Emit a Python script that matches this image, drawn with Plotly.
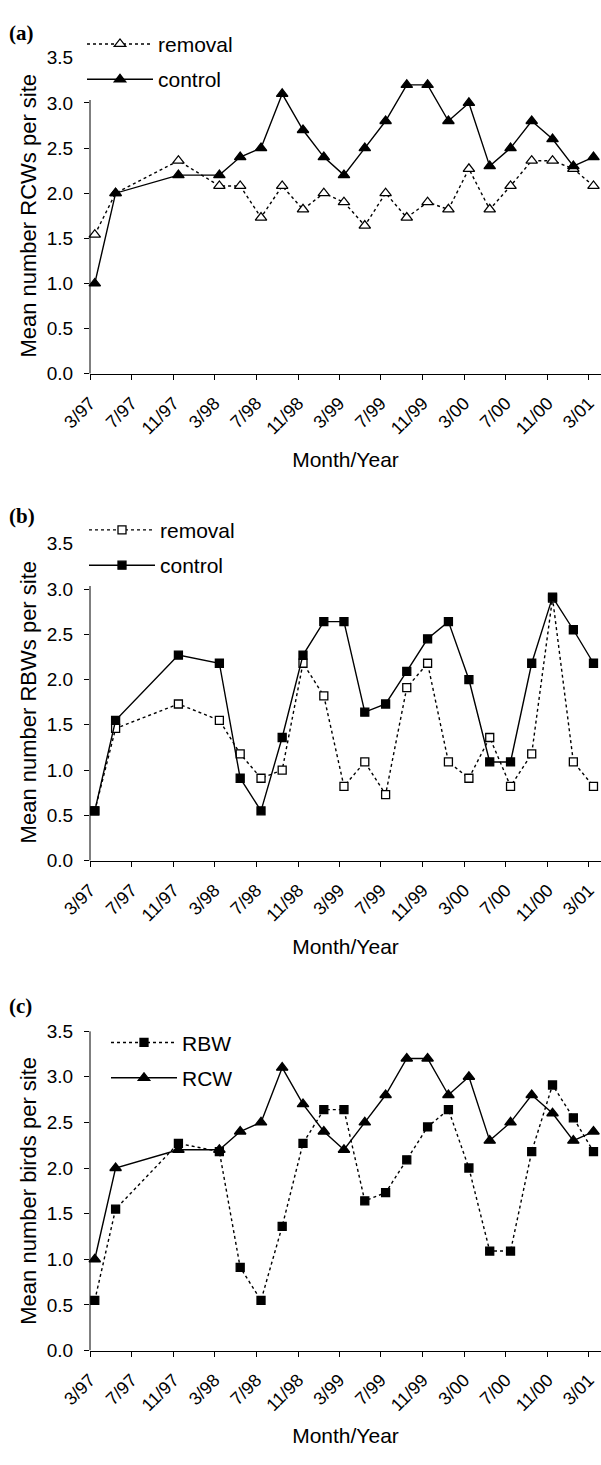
import plotly.graph_objects as go

# ---- data ----
dates = ["1997-03-15", "1997-05-15", "1997-11-15", "1998-03-15", "1998-05-15",
         "1998-07-15", "1998-09-15", "1998-11-15", "1999-01-15", "1999-03-15",
         "1999-05-15", "1999-07-15", "1999-09-15", "1999-11-15", "2000-01-15",
         "2000-03-15", "2000-05-15", "2000-07-15", "2000-09-15", "2000-11-15",
         "2001-01-15", "2001-03-15"]
rcw_removal = [1.54, 2.0, 2.36, 2.08, 2.08, 1.73, 2.08, 1.82, 2.0, 1.9, 1.64,
               2.0, 1.73, 1.9, 1.82, 2.27, 1.82, 2.08, 2.36, 2.36, 2.27, 2.08]
rcw_control = [1.0, 2.0, 2.2, 2.2, 2.4, 2.5, 3.1, 2.7, 2.4, 2.2, 2.5,
               2.8, 3.2, 3.2, 2.8, 3.0, 2.3, 2.5, 2.8, 2.6, 2.3, 2.4]
rbw_removal = [0.55, 1.46, 1.73, 1.55, 1.18, 0.91, 1.0, 2.18, 1.82, 0.82, 1.09,
               0.73, 1.91, 2.18, 1.09, 0.91, 1.36, 0.82, 1.18, 2.9, 1.09, 0.82]
rbw_control = [0.55, 1.55, 2.27, 2.18, 0.91, 0.55, 1.36, 2.27, 2.64, 2.64, 1.64,
               1.73, 2.09, 2.45, 2.64, 2.0, 1.09, 1.09, 2.18, 2.91, 2.55, 2.18]

panel_labels = ["(a)", "(b)", "(c)"]
y_titles = ["Mean number RCWs per site", "Mean number RBWs per site",
            "Mean number birds per site"]
x_title = "Month/Year"

W, H = 601, 1465
L = 90
PW = W - L
FONT = "Liberation Sans, Arial, sans-serif"
BLACK = "#000000"

fig = go.Figure()


def px2y(p):
    return 1 - p / H


def px2x(p):
    return (p - L) / PW


# panel y pixel extents (top of 3.5, bottom at 0)
panels = [(48.5, 369), (541.5, 863), (1036, 1360)]
# visible top of each y-axis line (legend boxes hide the rest in a and b)
axis_top = [3.04, 3.04, 3.5]


def add(x, y, name, axis, legend, dashed, symbol, filled, group):
    fig.add_trace(go.Scatter(
        x=x, y=y, name=name, mode="lines+markers",
        xaxis="x" + ("" if axis == 1 else str(axis)),
        yaxis="y" + ("" if axis == 1 else str(axis)),
        legend=legend, legendgroup=group,
        line=dict(color=BLACK, width=1.4, dash="dot" if dashed else "solid"),
        marker=dict(symbol=symbol, size=10 if "triangle" in symbol else 8,
                    color=BLACK if filled else "white",
                    line=dict(color=BLACK, width=1.3)),
        cliponaxis=False,
    ))


add(dates, rcw_removal, "removal", 1, "legend", True, "triangle-up", False, "a1")
add(dates, rcw_control, "control", 1, "legend", False, "triangle-up", True, "a2")
add(dates, rbw_removal, "removal", 2, "legend2", True, "square", False, "b1")
add(dates, rbw_control, "control", 2, "legend2", False, "square", True, "b2")
add(dates, rbw_control, "RBW", 3, "legend3", True, "square", True, "c1")
add(dates, rcw_control, "RCW", 3, "legend3", False, "triangle-up", True, "c2")

layout = dict(
    width=W, height=H,
    margin=dict(l=L, r=0, t=0, b=0),
    paper_bgcolor="white", plot_bgcolor="white",
    font=dict(family=FONT, color=BLACK, size=18),
    showlegend=True,
)

shapes = []
for i, (top, bot) in enumerate(panels):
    sfx = "" if i == 0 else str(i + 1)
    layout["xaxis" + sfx] = dict(
        type="date", range=["1997-03-01", "2001-04-06"],
        tick0="1997-03-01", dtick="M4", tickformat="%-m/%y",
        tickangle=-45, ticks="outside", ticklen=5, tickcolor=BLACK,
        ticklabelstandoff=6,
        showline=True, linecolor=BLACK, linewidth=1, showgrid=False,
        zeroline=False, tickfont=dict(size=18, family=FONT),
        anchor="y" + sfx, domain=[0, 1],
        title=dict(text=x_title, font=dict(size=21, family=FONT), standoff=14),
    )
    layout["yaxis" + sfx] = dict(
        range=[0, 3.5], tickvals=[0, 0.5, 1, 1.5, 2, 2.5, 3, 3.5],
        tickformat=".1f", ticks="outside", ticklen=5, tickcolor=BLACK,
        ticklabelstandoff=7,
        showline=False, showgrid=False,
        zeroline=False, tickfont=dict(size=19, family=FONT),
        anchor="x" + sfx, domain=[px2y(bot), px2y(top)],
        title=dict(text=y_titles[i], font=dict(size=22, family=FONT), standoff=4),
    )
    # y-axis line (only the part not hidden by the legend box)
    shapes.append(dict(type="line", xref="paper", yref="y" + sfx,
                       x0=0, x1=0, y0=0, y1=axis_top[i],
                       line=dict(color=BLACK, width=1)))

legend_common = dict(font=dict(size=21, family=FONT), itemwidth=66,
                     tracegroupgap=5, xanchor="left", yanchor="top",
                     borderwidth=0, traceorder="grouped")
layout["legend"] = dict(x=px2x(82), y=px2y(14), bgcolor="white", **legend_common)
layout["legend2"] = dict(x=px2x(84), y=px2y(507), bgcolor="white", **legend_common)
layout["legend3"] = dict(x=px2x(106), y=px2y(1027), bgcolor="rgba(0,0,0,0)", **legend_common)

# the legend boxes of panels (a) and (b) hide the top tick of the y axis
shapes += [
    dict(type="rect", xref="paper", yref="paper", layer="above",
         x0=px2x(82), x1=px2x(95), y0=px2y(86), y1=px2y(30),
         fillcolor="white", line=dict(width=0)),
    dict(type="rect", xref="paper", yref="paper", layer="above",
         x0=px2x(82), x1=px2x(95), y0=px2y(580), y1=px2y(522),
         fillcolor="white", line=dict(width=0)),
]
layout["shapes"] = shapes

label_y = [23, 513, 1010]
layout["annotations"] = [
    dict(text="<b>" + lab + "</b>", xref="paper", yref="paper",
         x=px2x(7), y=px2y(ly), xanchor="left", yanchor="middle",
         showarrow=False, font=dict(family="Liberation Serif, Times New Roman, serif",
                                    size=21, color=BLACK))
    for lab, ly in zip(panel_labels, label_y)
]

fig.update_layout(**layout)
fig.write_html(
    "out.html",
    config={"displayModeBar": False},
    post_script="document.body.style.margin='0px';document.body.style.overflow='hidden';",
)
